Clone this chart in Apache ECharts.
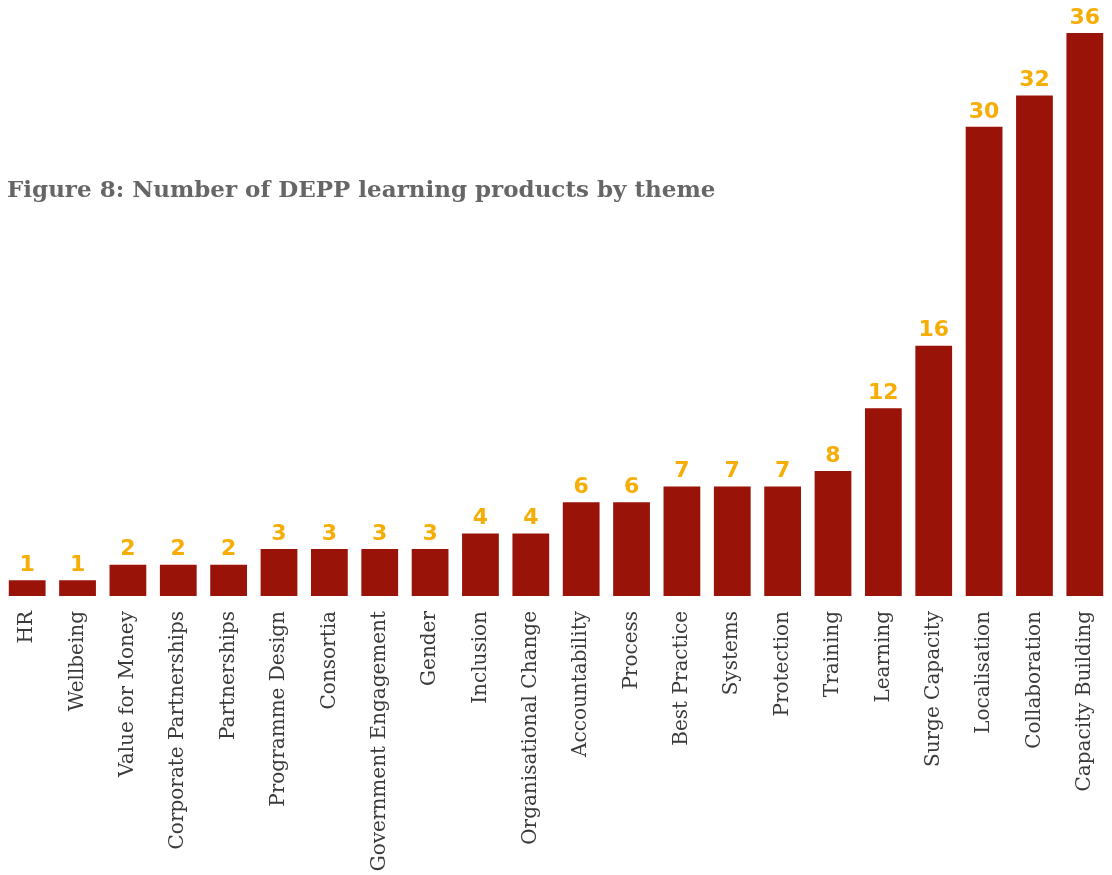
<!DOCTYPE html>
<html>
<head>
<meta charset="utf-8">
<script src="https://cdn.jsdelivr.net/npm/echarts@6/dist/echarts.min.js"></script>
<style>html,body{margin:0;padding:0;background:#fff}#c{width:1112px;height:875px}</style>
</head>
<body>
<div id="c"></div>
<script>
const categories = ["HR","Wellbeing","Value for Money","Corporate Partnerships","Partnerships","Programme Design","Consortia","Government Engagement","Gender","Inclusion","Organisational Change","Accountability","Process","Best Practice","Systems","Protection","Training","Learning","Surge Capacity","Localisation","Collaboration","Capacity Building"];
const values = [1,1,2,2,2,3,3,3,3,4,4,6,6,7,7,7,8,12,16,30,32,36];
const titleText = "Figure 8: Number of DEPP learning products by theme";

const chart = echarts.init(document.getElementById('c'), null, {renderer:'canvas'});
chart.setOption({
  animation:false,
  title:{text:titleText,left:2,top:175,textStyle:{fontFamily:'DejaVu Serif',fontWeight:'bold',fontSize:23,color:'#666666'}},
  grid:{left:2,right:2,top:33,bottom:279,containLabel:false,outerBoundsMode:'none'},
  xAxis:{type:'category',data:categories,
    axisLine:{show:false},axisTick:{show:false},
    axisLabel:{rotate:90,interval:0,margin:15,fontFamily:'DejaVu Serif',fontSize:20,color:'#3a3a3a'}},
  yAxis:{type:'value',min:0,max:36,show:false,splitLine:{show:false}},
  series:[{type:'bar',data:values,barCategoryGap:'27%',
    itemStyle:{color:'#9A1309'},
    label:{show:true,position:'top',distance:4,fontFamily:'DejaVu Sans',fontWeight:'bold',fontSize:22,color:'#F6AE06'}}]
});
</script>
</body>
</html>
